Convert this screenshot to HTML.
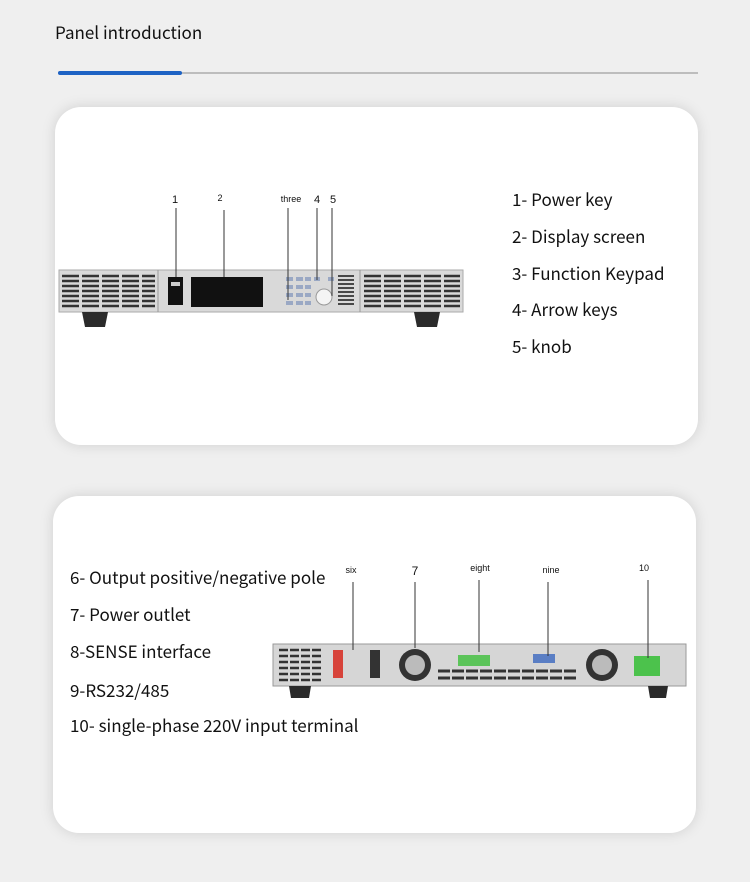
<!DOCTYPE html>
<html><head><meta charset="utf-8"><style>
*{margin:0;padding:0;box-sizing:border-box}
body{width:750px;height:882px;background:#efefef;position:relative;overflow:hidden;font-family:"Noto Sans CJK SC","Liberation Sans",sans-serif;color:#111}
.t{position:absolute;white-space:nowrap}
.card{position:absolute;background:#fff;border-radius:26px;box-shadow:0 0 14px rgba(0,0,0,0.13)}
.l{font-size:17px;position:absolute;white-space:nowrap}
svg{position:absolute;left:0;top:0}
</style></head><body>
<div class="t" style="left:55px;top:19px;font-size:17px">Panel introduction</div>
<div style="position:absolute;left:58px;top:72px;width:640px;height:2px;background:#bdbdbd"></div>
<div style="position:absolute;left:58px;top:71px;width:124px;height:4px;background:#1e63c4;border-radius:2px"></div>

<div class="card" style="left:55px;top:107px;width:643px;height:338px"></div>
<div class="card" style="left:53px;top:496px;width:643px;height:337px"></div>

<div class="l" style="left:512px;top:186px">1- Power key</div>
<div class="l" style="left:512px;top:223px">2- Display screen</div>
<div class="l" style="left:512px;top:260px">3- Function Keypad</div>
<div class="l" style="left:512px;top:296px">4- Arrow keys</div>
<div class="l" style="left:512px;top:333px">5- knob</div>

<div class="l" style="left:70px;top:564px">6- Output positive/negative pole</div>
<div class="l" style="left:70px;top:601px">7- Power outlet</div>
<div class="l" style="left:70px;top:638px">8-SENSE interface</div>
<div class="l" style="left:70px;top:677px">9-RS232/485</div>
<div class="l" style="left:70px;top:712px">10- single-phase 220V input terminal</div>

<svg width="750" height="882" xmlns="http://www.w3.org/2000/svg" font-family="Liberation Sans, sans-serif">
<rect x="59" y="270" width="404" height="42" fill="#d9d9d9" stroke="#aaa"/>
<line x1="158" y1="270" x2="158" y2="312" stroke="#999"/>
<line x1="360" y1="270" x2="360" y2="312" stroke="#999"/>
<g stroke="#333" stroke-width="2.4">
<path d="M62 276H155M62 281H155M62 286H155M62 291H155M62 296H155M62 301H155M62 306H155" stroke-dasharray="17 3"/>
<path d="M364 276H460M364 281H460M364 286H460M364 291H460M364 296H460M364 301H460M364 306H460" stroke-dasharray="17 3"/>
<path d="M338 276H354M338 280H354M338 284H354M338 288H354M338 292H354M338 296H354M338 300H354M338 304H354" stroke-width="1.8"/>
</g>
<path d="M82 312H108L105 327H85Z" fill="#2a2a2a"/>
<path d="M414 312H440L437 327H417Z" fill="#2a2a2a"/>
<rect x="168" y="277" width="15" height="28" fill="#111"/>
<rect x="171" y="282" width="9" height="4" fill="#ccc"/>
<rect x="191" y="277" width="72" height="30" fill="#111"/>
<g fill="#9aa8c4">
<rect x="286" y="277" width="7" height="4"/><rect x="296" y="277" width="7" height="4"/>
<rect x="286" y="285" width="7" height="4"/><rect x="296" y="285" width="7" height="4"/><rect x="305" y="285" width="6" height="4"/>
<rect x="286" y="293" width="7" height="4"/><rect x="296" y="293" width="7" height="4"/><rect x="305" y="293" width="6" height="4"/>
<rect x="286" y="301" width="7" height="4"/><rect x="296" y="301" width="7" height="4"/><rect x="305" y="301" width="6" height="4"/>
<rect x="305" y="277" width="6" height="4"/><rect x="314" y="277" width="6" height="4"/><rect x="328" y="277" width="6" height="4"/>
</g>
<circle cx="324" cy="297" r="8" fill="#f4f4f4" stroke="#999"/>
<g stroke="#333" stroke-width="1">
<line x1="176" y1="208" x2="176" y2="277"/>
<line x1="224" y1="210" x2="224" y2="277"/>
<line x1="288" y1="208" x2="288" y2="300"/>
<line x1="317" y1="208" x2="317" y2="280"/>
<line x1="332" y1="208" x2="332" y2="296"/>
</g>
<g font-size="11" fill="#111" text-anchor="middle">
<text x="175" y="203">1</text><text x="220" y="201" font-size="9">2</text>
<text x="291" y="202" font-size="9">three</text><text x="317" y="203">4</text><text x="333" y="203">5</text>
</g>
<rect x="273" y="644" width="413" height="42" fill="#d6d6d6" stroke="#999"/>
<g stroke="#333" stroke-width="2.4"><path d="M279 650H323M279 656H323M279 662H323M279 668H323M279 674H323M279 680H323" stroke-dasharray="9 2"/></g>
<rect x="333" y="650" width="10" height="28" fill="#d7433a"/>
<rect x="370" y="650" width="10" height="28" fill="#333"/>
<circle cx="415" cy="665" r="16" fill="#333"/><circle cx="415" cy="665" r="10" fill="#bbb"/>
<circle cx="602" cy="665" r="16" fill="#333"/><circle cx="602" cy="665" r="10" fill="#bbb"/>
<rect x="458" y="655" width="32" height="11" fill="#5cc45a"/>
<rect x="533" y="654" width="22" height="9" fill="#5a7ec4"/>
<g stroke="#333" stroke-width="3"><path d="M438 671H578M438 678H578" stroke-dasharray="12 2"/></g>
<rect x="634" y="656" width="26" height="20" fill="#4cc24c"/>
<path d="M289 686H311L309 698H291Z" fill="#2a2a2a"/>
<path d="M648 686H668L666 698H650Z" fill="#2a2a2a"/>
<g stroke="#333" stroke-width="1">
<line x1="353" y1="582" x2="353" y2="650"/>
<line x1="415" y1="582" x2="415" y2="648"/>
<line x1="479" y1="580" x2="479" y2="652"/>
<line x1="548" y1="582" x2="548" y2="656"/>
<line x1="648" y1="580" x2="648" y2="658"/>
</g>
<g font-size="9" fill="#111" text-anchor="middle">
<text x="351" y="573">six</text><text x="415" y="575" font-size="12">7</text><text x="480" y="571">eight</text><text x="551" y="573">nine</text><text x="644" y="571">10</text>
</g>
</svg>
</body></html>
